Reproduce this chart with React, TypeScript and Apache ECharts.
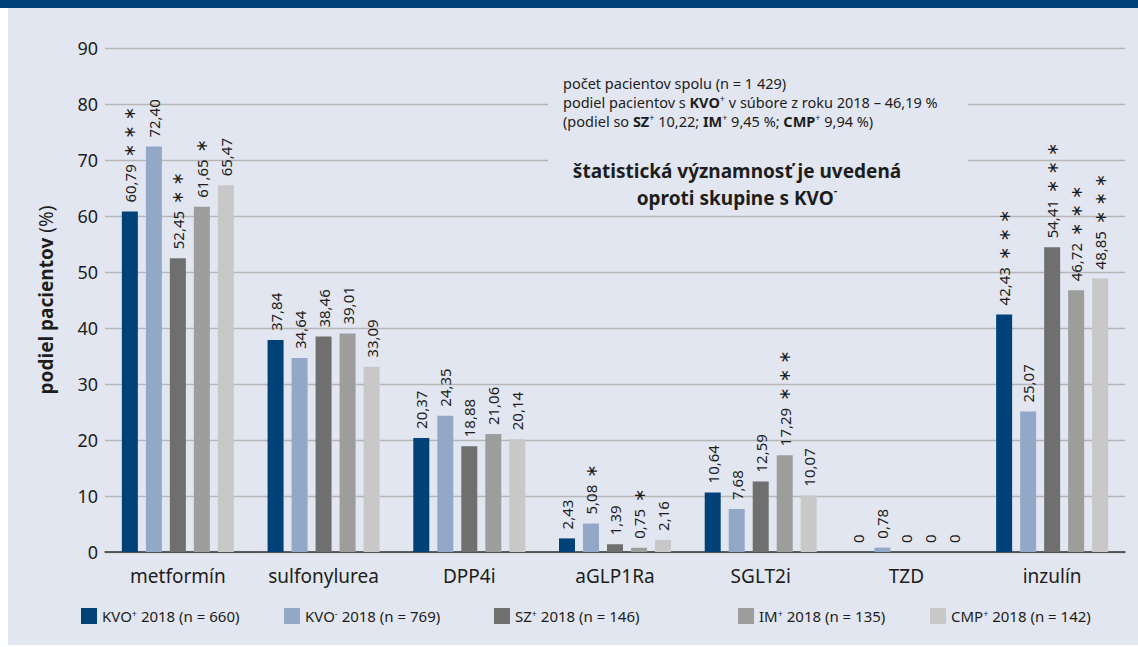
import React, { useEffect, useRef } from "react";
import * as echarts from "echarts";

const categories = ["metformín", "sulfonylurea", "DPP4i", "aGLP1Ra", "SGLT2i", "TZD", "inzulín"];
const seriesNames = [
  "KVO+ 2018 (n = 660)",
  "KVO- 2018 (n = 769)",
  "SZ+ 2018 (n = 146)",
  "IM+ 2018 (n = 135)",
  "CMP+ 2018 (n = 142)",
];
const kvoPlus = [60.79, 37.84, 20.37, 2.43, 10.64, 0, 42.43];
const kvoMinus = [72.4, 34.64, 24.35, 5.08, 7.68, 0.78, 25.07];
const szPlus = [52.45, 38.46, 18.88, 1.39, 12.59, 0, 54.41];
const imPlus = [61.65, 39.01, 21.06, 0.75, 17.29, 0, 46.72];
const cmpPlus = [65.47, 33.09, 20.14, 2.16, 10.07, 0, 48.85];
// number of significance stars per bar
const kvoPlusStars = [3, 0, 0, 0, 0, 0, 3];
const kvoMinusStars = [0, 0, 0, 1, 0, 0, 0];
const szPlusStars = [2, 0, 0, 0, 0, 0, 3];
const imPlusStars = [1, 0, 0, 1, 3, 0, 3];
const cmpPlusStars = [0, 0, 0, 0, 0, 0, 3];
const yTicks = [0, 10, 20, 30, 40, 50, 60, 70, 80, 90];

const allValues = [kvoPlus, kvoMinus, szPlus, imPlus, cmpPlus];
const allStars = [kvoPlusStars, kvoMinusStars, szPlusStars, imPlusStars, cmpPlusStars];
const colors = ["#004177", "#93a8c9", "#6f6f6f", "#9d9d9c", "#c8c8c8"];
const legendLefts = [81, 284, 494, 738, 930];

const FONT = "'Noto Sans', sans-serif";
const TEXT = "#1d1d1b";
const BG = "#e2e6f0";

function fmt(v: number) {
  if (v === 0) return "0";
  return v.toFixed(2).replace(".", ",");
}

export default function App() {
  const ref = useRef<HTMLDivElement>(null);
  useEffect(() => {
    if (!ref.current) return;
    const chart = echarts.init(ref.current, undefined, { renderer: "svg" });
    const supRich = {
      sup: { fontSize: 9, verticalAlign: "top", fontFamily: FONT, color: TEXT },
    };
    const series = allValues.map((vals, si) => ({
      type: "bar",
      name: seriesNames[si],
      data: vals,
      barWidth: 16,
      barGap: "50%",
      itemStyle: { color: colors[si] },
      label: {
        show: true,
        position: "top",
        rotate: 90,
        align: "left",
        verticalAlign: "middle",
        distance: 9,
        fontSize: 15,
        fontFamily: FONT,
        color: TEXT,
        formatter: (p: any) => {
          const n = allStars[si][p.dataIndex];
          const s = n > 0 ? "{s|" + Array(n).fill("∗").join(" ") + "}" : "";
          return fmt(p.value) + s;
        },
        rich: {
          s: {
            fontSize: 16,
            fontFamily: "'DejaVu Sans', sans-serif",
            color: TEXT,
            padding: [0, 0, 0, 7],
          },
        },
      },
    }));
    const legends = seriesNames.map((nm, i) => ({
      data: [nm],
      left: legendLefts[i],
      top: 608,
      padding: 0,
      itemWidth: 16,
      itemHeight: 16,
      icon: "rect",
      selectedMode: false,
      textStyle: { fontSize: 15, fontFamily: FONT, color: TEXT, rich: supRich },
      formatter: (name: string) => name.replace(/^([A-Z]+)([+-])/, "$1{sup|$2}"),
    }));
    const annRich = {
      b: { fontWeight: "bold", fontSize: 14.5, fontFamily: FONT, fill: TEXT },
      sup: { fontSize: 9, verticalAlign: "top", fontFamily: FONT, fill: TEXT },
    };
    chart.setOption({
      animation: false,
      textStyle: { fontFamily: FONT },
      grid: { left: 105, right: 13, top: 48, bottom: 95 },
      legend: legends,
      xAxis: {
        type: "category",
        data: categories,
        axisTick: { show: false },
        axisLine: { lineStyle: { color: "#333333", width: 1.5 } },
        axisLabel: { fontSize: 19, color: TEXT, margin: 14, fontFamily: FONT },
      },
      yAxis: {
        type: "value",
        min: 0,
        max: 90,
        interval: 10,
        axisLine: { show: false },
        axisTick: { show: false },
        splitLine: { lineStyle: { color: "#b6b6b6", width: 1.3 } },
        axisLabel: {
          fontSize: 18,
          color: TEXT,
          margin: 7,
          fontFamily: FONT,
          formatter: (v: number) => (yTicks.includes(v) ? String(v) : ""),
        },
        name: "{b|podiel pacientov} (%)",
        nameLocation: "middle",
        nameGap: 50,
        nameTextStyle: {
          fontSize: 19,
          color: TEXT,
          fontFamily: FONT,
          rich: { b: { fontSize: 19, fontWeight: "bold", color: TEXT, fontFamily: FONT } },
        },
      },
      series,
      graphic: [
        {
          type: "rect",
          z: 100,
          shape: { x: 548, y: 64, width: 420, height: 146 },
          style: { fill: BG },
        },
        {
          type: "text",
          z: 101,
          x: 563,
          y: 75,
          style: {
            text: "počet pacientov spolu (n = 1 429)",
            fontSize: 14.5,
            fontFamily: FONT,
            fill: TEXT,
          },
        },
        {
          type: "text",
          z: 101,
          x: 563,
          y: 94,
          style: {
            text: "podiel pacientov s {b|KVO}{sup|+} v súbore z roku 2018 – 46,19 %",
            fontSize: 14.5,
            fontFamily: FONT,
            fill: TEXT,
            rich: annRich,
          },
        },
        {
          type: "text",
          z: 101,
          x: 563,
          y: 113,
          style: {
            text: "(podiel so {b|SZ}{sup|+} 10,22; {b|IM}{sup|+} 9,45 %; {b|CMP}{sup|+} 9,94 %)",
            fontSize: 14.5,
            fontFamily: FONT,
            fill: TEXT,
            rich: annRich,
          },
        },
        {
          type: "text",
          z: 101,
          x: 737,
          y: 157,
          style: {
            text: "štatistická významnosť je uvedená\noproti skupine s KVO{bsup|-}",
            fontSize: 19,
            fontWeight: "bold",
            lineHeight: 27,
            align: "center",
            fontFamily: FONT,
            fill: TEXT,
            rich: {
              bsup: { fontSize: 11, fontWeight: "bold", verticalAlign: "top", fontFamily: FONT, fill: TEXT },
            },
          },
        },
      ],
    });
    return () => chart.dispose();
  }, []);
  return (
    <div style={{ position: "fixed", left: 0, top: 0, width: 1138, height: 647, background: "#ffffff" }}>
      <div style={{ position: "absolute", left: 8, top: 8, width: 1130, height: 637, background: BG }} />
      <div style={{ position: "absolute", left: 0, top: 0, width: 1138, height: 8, background: "#004077" }} />
      <div ref={ref} style={{ position: "absolute", left: 0, top: 0, width: 1138, height: 647 }} />
    </div>
  );
}
